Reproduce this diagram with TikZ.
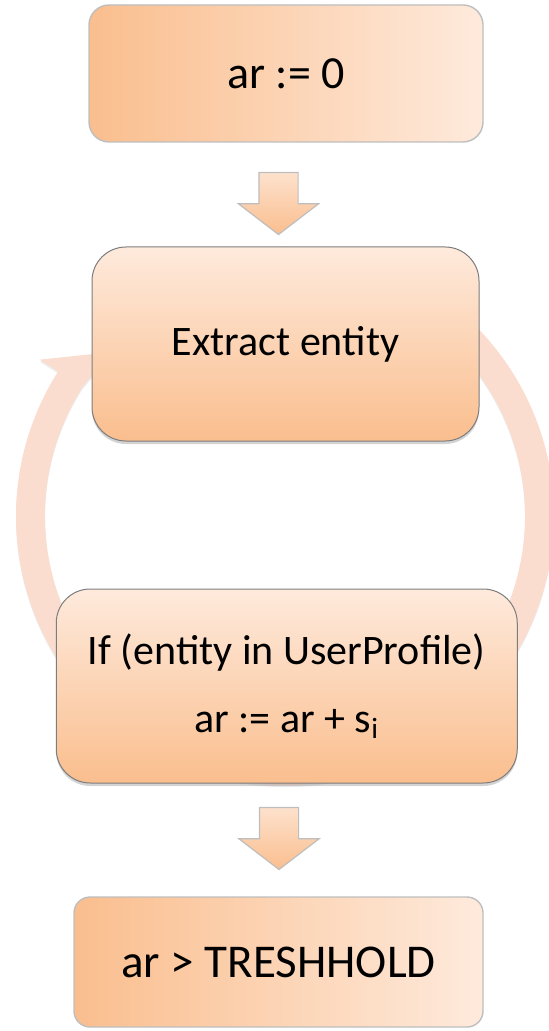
\documentclass[tikz,border=0pt]{standalone}
\usepackage{fontspec}
\setmainfont{Carlito}
\usetikzlibrary{shapes.arrows,shadows,calc}
\definecolor{peachdark}{RGB}{250,190,142}
\definecolor{peachlight}{RGB}{254,234,220}
\definecolor{ringcol}{RGB}{251,221,207}
\definecolor{edgegray}{RGB}{190,190,190}
\definecolor{edgedark}{RGB}{125,125,125}
\begin{document}
\begin{tikzpicture}[
        x=0.5pt, y=-0.5pt,
        flatbox/.style={
            font=\fontsize{23}{28}\selectfont,
            draw=edgegray,
            line width=0.7pt,
            rounded corners=10pt,
            left color=peachdark,
            right color=peachlight,
            inner sep=0pt
        },
        liftbox/.style={
            font=\fontsize{21}{34}\selectfont,
            align=center,
            draw=edgedark,
            line width=0.5pt,
            rounded corners=17pt,
            top color=peachlight,
            bottom color=peachdark,
            inner sep=0pt,
            minimum height=97pt,
            drop shadow={opacity=0.35, shadow xshift=0pt, shadow yshift=-1.5pt}
        },
        downarrow/.style={
            single arrow,
            shape border rotate=270,
            draw=edgegray,
            line width=0.6pt,
            top color=peachlight!80!peachdark,
            bottom color=peachdark,
            minimum height=31pt,
            minimum width=39.5pt,
            single arrow head extend=10.25pt,
            single arrow tip angle=105,
            inner sep=0pt
        }
    ]
    \useasboundingbox (0,0) rectangle (549,1031);

    \coordinate (ctr) at (285,516);
    \fill[ringcol, drop shadow={opacity=0.15, shadow xshift=0pt, shadow yshift=-1pt}]
        ($(ctr)+(240:269)$) arc[start angle=240, end angle=572.5, radius=269]
        -- ($(ctr)+(212.5:291)$) -- ($(ctr)+(-173,-164)$) -- ($(ctr)+(212.5:240)$)
        arc[start angle=572.5, end angle=240, radius=240] -- cycle;

    \node[flatbox, minimum width=197pt, minimum height=68.5pt] (init) at (286,73.5) {ar := 0};
    \node[downarrow] (step1) at (278.5,196) {\rule{0pt}{6pt}\hspace*{19pt}};
    \node[liftbox, minimum width=193.5pt] (extract) at (285.5,344) {Extract entity};
    \node[liftbox, minimum width=230.5pt] (check) at (286.75,686) {If (entity in UserProfile)\\ ar := ar + s\textsubscript{i}};
    \node[downarrow] (step2) at (279,831) {\rule{0pt}{6pt}\hspace*{19pt}};
    \node[flatbox, minimum width=204.5pt, minimum height=65pt, rounded corners=8pt, font=\fontsize{23.5}{28}\selectfont] (test) at (278.5,962) {ar > TRESHHOLD};
\end{tikzpicture}
\end{document}
